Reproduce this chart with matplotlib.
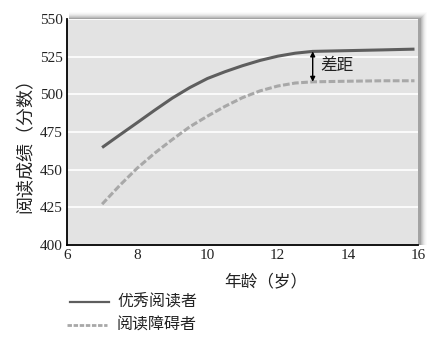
import matplotlib
matplotlib.use("Agg")
import matplotlib.pyplot as plt
from matplotlib.patches import Rectangle, FancyArrowPatch
from matplotlib.lines import Line2D

ages = [7, 7.5, 8, 8.5, 9, 9.5, 10, 10.5, 11, 11.5, 12, 12.5, 13, 14, 15, 15.9]
good_readers = [464.7, 473, 481.2, 489.5, 497.5, 504.5, 510.5, 515, 519, 522.5, 525.3, 527.3, 528.5, 529, 529.5, 530]
poor_readers = [427.1, 439.5, 451, 461, 470, 478.5, 485.5, 492, 497.8, 502.3, 505.5, 507.5, 508.3, 508.7, 509, 509]
x_ticks = [6, 8, 10, 12, 14, 16]
y_ticks = [400, 425, 450, 475, 500, 525, 550]
series_names = ["优秀阅读者", "阅读障碍者"]
gap_label = "差距"
gap_age = 13
x_label = "年龄（岁）"
y_label = "阅读成绩（分数）"

CJK = ["Noto Sans CJK SC", "DejaVu Sans"]
SERIF = "Liberation Serif"

W, H = 444, 344
fig = plt.figure(figsize=(W / 100, H / 100), dpi=100)
fig.patch.set_facecolor("white")

L, R, T, B = 67, 418, 19, 245
ax_rect = [L / W, 1 - B / H, (R - L) / W, (B - T) / H]

# drop shadow (top and right)
for i, a in enumerate([0.12, 0.09, 0.07, 0.05, 0.035, 0.025, 0.015]):
    d = i + 1
    fig.patches.append(Rectangle(((L + 2) / W, 1 - B / H), (R - L + d) / W, (B - T + d) / H,
                                 transform=fig.transFigure, facecolor="black", alpha=a,
                                 edgecolor="none", zorder=0))

ax = fig.add_axes(ax_rect, zorder=1)
ax.set_facecolor("#e3e3e3")
ax.set_xlim(6, 16)
ax.set_ylim(400, 550)
ax.set_xticks(x_ticks)
ax.set_yticks(y_ticks)
ax.tick_params(length=0, pad=3)
for lab in ax.get_xticklabels() + ax.get_yticklabels():
    lab.set_fontfamily(SERIF)
    lab.set_fontsize(11)
    lab.set_color("#222222")
ax.yaxis.grid(True, color="white", lw=1.2)
ax.set_axisbelow(True)
for s in ["top", "right"]:
    ax.spines[s].set_visible(False)
for s in ["left", "bottom"]:
    ax.spines[s].set_color("black")
    ax.spines[s].set_linewidth(1.3)

ax.plot(ages, good_readers, color="#5e5e5e", lw=2.2, solid_capstyle="butt", zorder=3)
ax.plot(ages, poor_readers, color="#a8a8a8", lw=2.2, dashes=(2.2, 0.8), zorder=3)

# gap arrow
g_top = good_readers[ages.index(gap_age)]
g_bot = poor_readers[ages.index(gap_age)]
arr = FancyArrowPatch((gap_age, g_bot), (gap_age, g_top), arrowstyle="<|-|>",
                      mutation_scale=7, color="black", lw=1.0, shrinkA=0, shrinkB=0, zorder=4)
ax.add_patch(arr)
ax.text(gap_age + 0.22, (g_top + g_bot) / 2 + 0.5, gap_label, family=CJK, fontsize=12,
        va="center", ha="left", color="#222222")

fig.text(266 / W, 1 - 282 / H, x_label, family=CJK, fontsize=12, ha="center", va="center",
         color="#222222")
fig.text(25 / W, 1 - 141 / H, y_label, family=CJK, fontsize=13, ha="center", va="center",
         rotation=90, color="#222222")

# legend
fig.lines.append(Line2D([70 / W, 109 / W], [1 - 301.5 / H] * 2, transform=fig.transFigure,
                        color="#5e5e5e", lw=1.6))
fig.lines.append(Line2D([67 / W, 107 / W], [1 - 325 / H] * 2, transform=fig.transFigure,
                        color="#a8a8a8", lw=2.0, dashes=(1.6, 0.6)))
fig.text(117 / W, 1 - 301.5 / H, series_names[0], family=CJK, fontsize=11.5, va="center",
         ha="left", color="#222222")
fig.text(117 / W, 1 - 325 / H, series_names[1], family=CJK, fontsize=11.5, va="center",
         ha="left", color="#222222")

fig.savefig("out.png", dpi=100)
